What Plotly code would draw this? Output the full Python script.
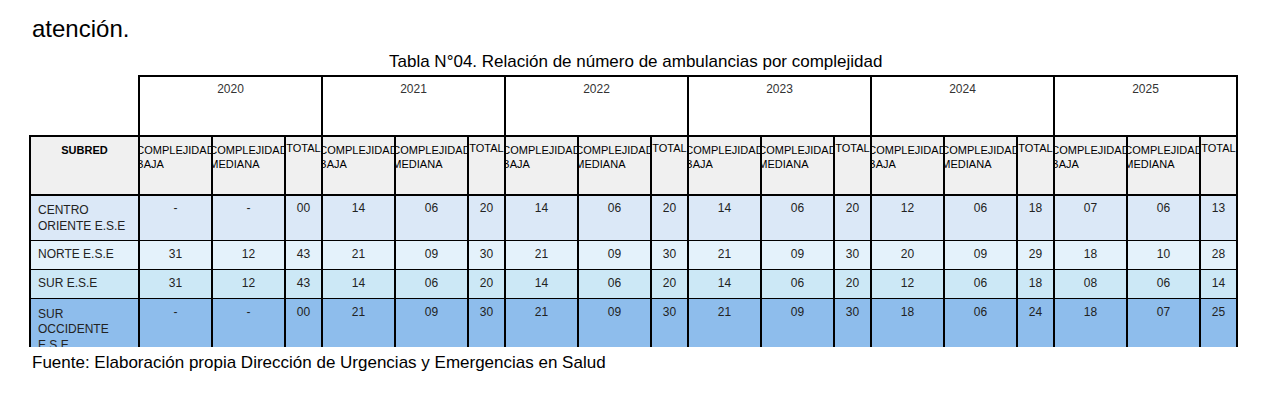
import plotly.graph_objects as go

W, H = 1280, 406

years = ["2020", "2021", "2022", "2023", "2024", "2025"]
subred = ["CENTRO ORIENTE E.S.E", "NORTE E.S.E", "SUR E.S.E", "SUR OCCIDENTE E.S.E", "TOTAL"]

# por año: baja, mediana, total (texto tal como aparece)
baja = {
    "2020": ["-", "31", "31", "-", "62"],
    "2021": ["14", "21", "14", "21", "70"],
    "2022": ["14", "21", "14", "21", "70"],
    "2023": ["14", "21", "14", "21", "70"],
    "2024": ["12", "20", "12", "18", "62"],
    "2025": ["07", "18", "08", "18", "51"],
}
mediana = {
    "2020": ["-", "12", "12", "-", "24"],
    "2021": ["06", "09", "06", "09", "30"],
    "2022": ["06", "09", "06", "09", "30"],
    "2023": ["06", "09", "06", "09", "30"],
    "2024": ["06", "09", "06", "06", "27"],
    "2025": ["06", "10", "06", "07", "29"],
}
total = {
    "2020": ["00", "43", "43", "00", "86"],
    "2021": ["20", "30", "20", "30", "100"],
    "2022": ["20", "30", "20", "30", "100"],
    "2023": ["20", "30", "20", "30", "100"],
    "2024": ["18", "29", "18", "24", "89"],
    "2025": ["13", "28", "14", "25", "80"],
}

row_fill = ["#dbe8f7", "#e4f2fb", "#cce8f6", "#8ebdec", "#f4f4f4"]
font_narrow = "Liberation Sans Narrow, Arial Narrow, sans-serif"

# columnas de la tabla principal
values = [subred]
header_vals = ["<b>SUBRED</b>"]
widths = [109]
for y in years:
    values += [baja[y], mediana[y], total[y]]
    header_vals += ["COMPLEJIDAD<br>BAJA", "COMPLEJIDAD<br>MEDIANA", "TOTAL"]
    widths += [73, 73, 37]

# texto en negrita para la fila TOTAL
values = [[("<b>%s</b>" % v) if i == 4 else v for i, v in enumerate(col)] for col in values]
align_cells = ["left"] + ["center"] * 18

def py(px):
    return 1 - px / H

fig = go.Figure()

# fila de años
fig.add_trace(go.Table(
    domain=dict(x=[131 / W, 1229 / W], y=[py(129), py(68)]),
    columnwidth=[183] * 6,
    header=dict(values=years, fill_color="white", line=dict(color="black", width=2),
                align="center", height=60,
                font=dict(family=font_narrow, size=12, color="#333")),
    cells=dict(values=[[] for _ in years], height=1),
))

# tabla principal
fig.add_trace(go.Table(
    domain=dict(x=[22 / W, 1229 / W], y=[py(340), py(128)]),
    columnwidth=widths,
    header=dict(values=header_vals, fill_color="#f0f0f0",
                line=dict(color="black", width=1.5),
                align="center", height=59,
                font=dict(family=font_narrow, size=11, color="black")),
    cells=dict(values=values,
               fill_color=[row_fill] * len(values),
               line=dict(color="black", width=1.5),
               align=align_cells, height=29,
               font=dict(family=font_narrow, size=12, color="#222")),
))

fig.add_annotation(x=22 / W, y=py(20), xref="paper", yref="paper", xanchor="left",
                   yanchor="middle", text="atención.", showarrow=False,
                   font=dict(family="Liberation Sans, Arial", size=24, color="black"))
fig.add_annotation(x=627 / W, y=py(54), xref="paper", yref="paper", xanchor="center",
                   yanchor="middle", text="Tabla N°04. Relación de número de ambulancias por complejidad",
                   showarrow=False,
                   font=dict(family="Liberation Sans, Arial", size=17, color="black"))
fig.add_annotation(x=22 / W, y=py(354), xref="paper", yref="paper", xanchor="left",
                   yanchor="middle", text="Fuente: Elaboración propia Dirección de Urgencias y Emergencias en Salud",
                   showarrow=False,
                   font=dict(family="Liberation Sans, Arial", size=17, color="black"))

fig.update_layout(width=W, height=H, margin=dict(l=0, r=0, t=0, b=0),
                  paper_bgcolor="white", plot_bgcolor="white")

fig.write_html("out.html")
